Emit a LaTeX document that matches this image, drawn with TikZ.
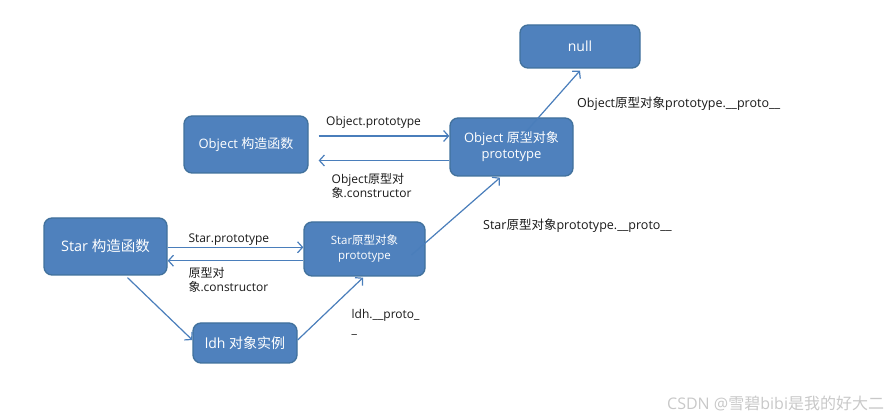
\documentclass[tikz,border=0pt]{standalone}
\usepackage{fontspec}
\setmainfont{Open Sans}
\newfontfamily\cjk{Noto Sans CJK SC}
\usetikzlibrary{arrows.meta}
\definecolor{boxfill}{HTML}{4F81BD}
\definecolor{boxline}{HTML}{41719C}
\definecolor{arrowc}{HTML}{4A7EBB}
\definecolor{wm}{HTML}{C8C8C8}
\newcommand\zh[1]{{\cjk #1}}
\begin{document}
\begin{tikzpicture}[x=1pt,y=-1pt,
  box/.style={draw=boxline,line width=1.3pt,fill=boxfill,rounded corners=8pt,
    text=white,align=center,inner sep=0pt},
  arr/.style={draw=arrowc,line width=1.2pt,-{Straight Barb[length=5pt,width=11pt]}},
  lbl/.style={anchor=base west,inner sep=0pt,text=black!90,
    font=\fontsize{12}{14}\selectfont},
  lbll/.style={lbl,font=\fontsize{12.5}{14}\selectfont}]
\useasboundingbox (0,0) rectangle (895,419);
% boxes
\node[box,minimum width=120pt,minimum height=43pt,font=\fontsize{14}{16}\selectfont]
  (null) at (580,46.5) {null};
\node[box,minimum width=124pt,minimum height=57pt,font=\fontsize{13}{16}\selectfont]
  (objf) at (246,144.5) {Object \zh{构造函数}};
\node[box,minimum width=123pt,minimum height=58pt,font=\fontsize{13}{16}\selectfont]
  (objp) at (511.5,147) {Object \zh{原型对象}\\prototype};
\node[box,minimum width=123pt,minimum height=57pt,font=\fontsize{14.5}{17}\selectfont]
  (starf) at (105.5,246.5) {Star \zh{构造函数}};
\node[box,minimum width=121pt,minimum height=54pt,font=\fontsize{11.5}{15}\selectfont]
  (starp) at (364.5,249) {Star\zh{原型对象}\\prototype};
\node[box,minimum width=104pt,minimum height=40pt,font=\fontsize{14}{16}\selectfont]
  (ldh) at (245,343) {ldh \zh{对象实例}};
% connectors
\draw[arr] ([xshift=10pt,yshift=8.5pt]objf.east) -- ([yshift=11pt]objp.west);
\draw[arr] ([yshift=-13.5pt]objp.west) -- ([xshift=10pt,yshift=-16pt]objf.east);
\draw[arr] ([yshift=-0.8pt]starf.east) -- ([yshift=1.7pt]starp.west);
\draw[arr] ([yshift=-11.7pt]starp.west) -- ([yshift=-14.2pt]starf.east);
\draw[arr] ([xshift=22pt,yshift=-2pt]starf.south) -- ([yshift=3pt]ldh.west);
\draw[arr] ([yshift=3pt]ldh.east) -- ([xshift=-1.5pt,yshift=-1pt]starp.south);
\draw[arr] ([xshift=47pt,yshift=-6pt]starp.center) -- ([xshift=-11.5pt,yshift=-1pt]objp.south);
\draw[arr] ([xshift=9.5pt,yshift=-20pt]objp.north) -- ([yshift=-2pt]null.south);
% labels
\node[lbl] (l1) at (326,126) {Object.prototype};
\node[lbl] (l2) at (331.5,184) {Object\zh{原型对}};
\node[lbl] (l3) at (331.5,197.7) {\zh{象}.constructor};
\node[lbl] (l4) at (188.3,242.7) {Star.prototype};
\node[lbl] (l5) at (188.3,278) {\zh{原型对}};
\node[lbl] (l6) at (188.3,291.7) {\zh{象}.constructor};
\node[lbl] (l7) at (351.5,318.3) {ldh.\_\_proto\_};
\node[lbl] (l8) at (351.5,334) {\_};
\node[lbll] (l9) at (577,108) {Object\zh{原型对象}prototype.\_\_proto\_\_};
\node[lbll] (l10) at (483,230) {Star\zh{原型对象}prototype.\_\_proto\_\_};
\node[anchor=base west,inner sep=0pt,text=wm,font=\fontsize{16}{18}\selectfont]
  (wmk) at (667,410) {CSDN @\zh{雪碧}bibi\zh{是我的好大二}};
\end{tikzpicture}
\end{document}
